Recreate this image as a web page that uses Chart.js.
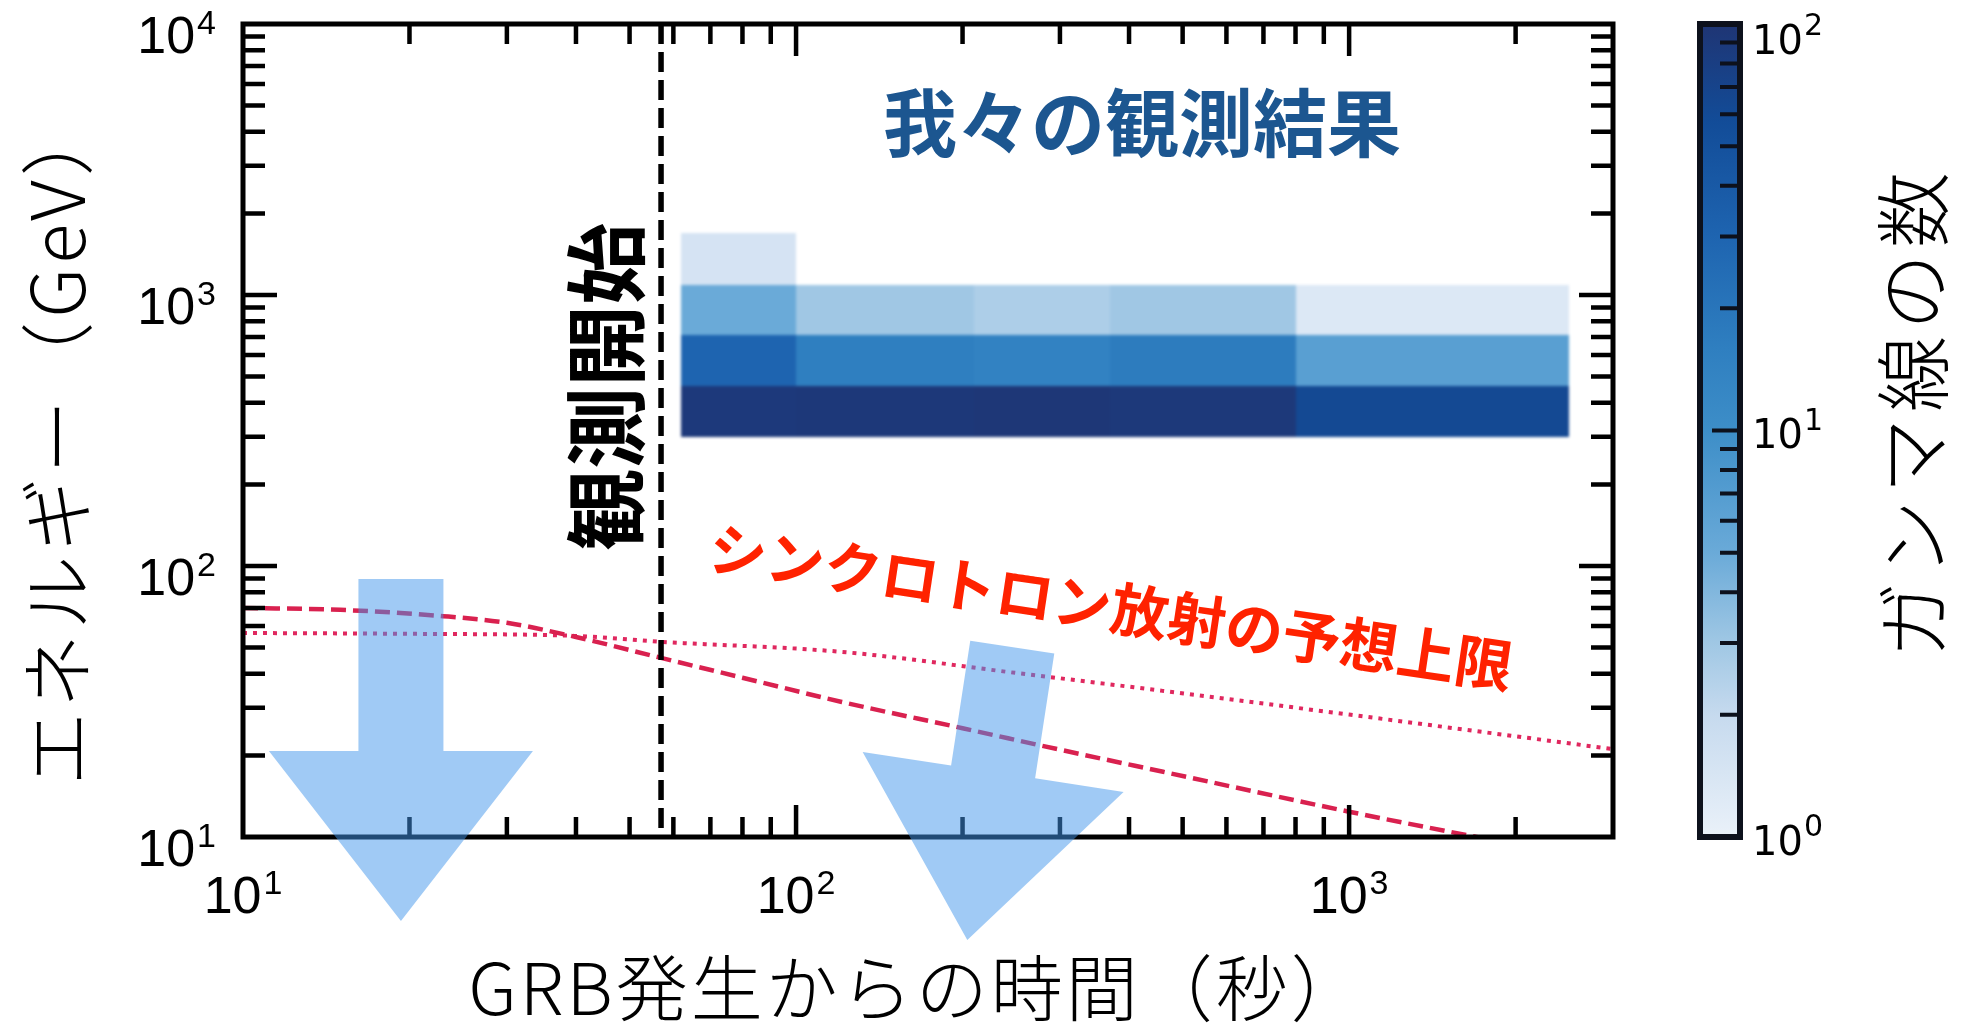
<!DOCTYPE html>
<html lang="ja">
<head>
<meta charset="utf-8">
<title>GRB 観測結果</title>
<script src="https://cdn.jsdelivr.net/npm/chart.js@4.4.1/dist/chart.umd.min.js"></script>
<style>
  html, body { margin: 0; padding: 0; background: #fff; }
  #wrap { width: 1965px; height: 1025px; position: relative; }
</style>
</head>
<body>
<div id="wrap"><canvas id="grbChart" width="1965" height="1025"></canvas></div>
<script>
// Axis ranges and ticks
const timeRange = [10, 3000];
const energyRange = [10, 10000];
const countRange = [1, 100];
const timeDecades = [10, 100, 1000];
const energyDecades = [10, 100, 1000, 10000];
const countDecades = [1, 10, 100];
const minorMultiples = [2, 3, 4, 5, 6, 7, 8, 9];
const timeTickLabels = ['10^1', '10^2', '10^3'];
const energyTickLabels = ['10^1', '10^2', '10^3', '10^4'];
const countTickLabels = ['10^0', '10^1', '10^2'];

// Gamma-ray counts binned in time (s) and energy (GeV)
const timeBinEdges = [62, 100, 210, 370, 800, 2500];
const energyBinEdges = [300, 460, 710, 1090, 1700];
// one row per energy bin (low -> high), one column per time bin
const photonCounts = [
  [90, 92, 95, 91, 62],
  [30, 16, 14.5, 17, 6.5],
  [5, 3.0, 2.6, 3.0, 1.3],
  [1.5, 0, 0, 0, 0]
];

// Predicted synchrotron upper limits
const syncDashedTime = [10, 15, 23, 30, 40, 57, 80, 121, 200, 300, 461, 1000, 1700, 2000];
const syncDashedEnergy = [70, 68.9, 65.3, 61.7, 54.7, 45.8, 38.7, 31.5, 25.2, 21.0, 17.4, 12.4, 10.0, 9.4];
const syncDottedTime = [10, 20, 40, 57, 121, 250, 461, 1000, 3000];
const syncDottedEnergy = [56.6, 56.2, 55.2, 52.5, 48.2, 40.3, 34.6, 28.3, 21.1];

// Start of observation (s)
const observationStart = 57;

// Big arrows: tail and tip as (time, energy)
const arrowTails = [[19.3, 89.5], [246, 50.2]];
const arrowTips = [[19.3, 4.9], [204, 4.17]];

// ---- styles ----
const cmapStops = [
  [0.00, [234, 241, 249]],
  [0.15, [198, 218, 238]],
  [0.24, [159, 199, 228]],
  [0.35, [106, 170, 216]],
  [0.50, [61, 142, 200]],
  [0.60, [47, 127, 192]],
  [0.74, [30, 100, 176]],
  [0.88, [18, 76, 152]],
  [1.00, [31, 53, 116]]
];
const cjk = '"Noto Sans CJK JP", "Noto Sans CJK SC", sans-serif';
const num = '"Liberation Sans Narrow", "Liberation Sans", sans-serif';
const mainLabel = { baseFont: `52px ${num}`, expFont: `34px ${num}`, gap: 2, baseDrop: 18.5, expDrop: 0 };
const cbLabel = { baseFont: '40px "DejaVu Sans", sans-serif', expFont: '30px "DejaVu Sans", sans-serif', gap: 1, baseDrop: 14.5, expDrop: -4 };
const colorbarBox = { left: 1700, right: 1740 };

function countColor(count) {
  const lo = Math.log10(countRange[0]), hi = Math.log10(countRange[1]);
  const t = Math.min(1, Math.max(0, (Math.log10(count) - lo) / (hi - lo)));
  for (let i = 1; i < cmapStops.length; i++) {
    const [t0, c0] = cmapStops[i - 1];
    const [t1, c1] = cmapStops[i];
    if (t <= t1) {
      const f = (t - t0) / (t1 - t0);
      const c = c0.map((v, k) => Math.round(v + (c1[k] - v) * f));
      return `rgb(${c.join(',')})`;
    }
  }
  return `rgb(${cmapStops[cmapStops.length - 1][1].join(',')})`;
}

function logTicks(decades, lo, hi) {
  const out = [];
  decades.forEach(d => {
    out.push({ value: d, major: true });
    minorMultiples.forEach(m => out.push({ value: d * m, major: false }));
  });
  return out.filter(t => t.value > lo && t.value < hi);
}

function drawPower(ctx, label, x, yc, style, align) {
  const [base, exp] = label.split('^');
  ctx.font = style.baseFont;
  const bw = ctx.measureText(base).width;
  ctx.font = style.expFont;
  const ew = ctx.measureText(exp).width;
  const total = bw + style.gap + ew;
  const left = align === 'right' ? x - total : align === 'center' ? x - total / 2 : x;
  ctx.textAlign = 'left';
  ctx.textBaseline = 'alphabetic';
  ctx.font = style.baseFont;
  ctx.fillText(base, left, yc + style.baseDrop);
  ctx.font = style.expFont;
  ctx.fillText(exp, left + bw + style.gap, yc + style.expDrop);
}

function drawRotated(ctx, text, x, y, angle, font, color, spacing) {
  ctx.save();
  ctx.translate(x, y);
  ctx.rotate(angle);
  ctx.font = font;
  ctx.fillStyle = color;
  ctx.letterSpacing = (spacing || 0) + 'px';
  ctx.textAlign = 'center';
  ctx.textBaseline = 'middle';
  ctx.fillText(text, 0, 0);
  ctx.restore();
}

// Heatmap cells (painted on a side canvas, then softened as one layer)
const heatmapPlugin = {
  id: 'heatmap',
  beforeDatasetsDraw(chart) {
    const { ctx, scales: { x, y } } = chart;
    const layer = document.createElement('canvas');
    layer.width = chart.width;
    layer.height = chart.height;
    const lctx = layer.getContext('2d');
    photonCounts.forEach((row, i) => {
      row.forEach((count, j) => {
        if (!count) return;
        const left = Math.round(x.getPixelForValue(timeBinEdges[j]));
        const right = Math.round(x.getPixelForValue(timeBinEdges[j + 1]));
        const top = Math.round(y.getPixelForValue(energyBinEdges[i + 1]));
        const bottom = Math.round(y.getPixelForValue(energyBinEdges[i]));
        lctx.fillStyle = countColor(count);
        lctx.fillRect(left, top, right - left, bottom - top);
      });
    });
    ctx.save();
    ctx.filter = 'blur(1.5px)';
    ctx.drawImage(layer, 0, 0);
    ctx.restore();
  },
  afterDatasetsDraw(chart) {
    // observation start marker
    const { ctx, chartArea, scales: { x } } = chart;
    const px = x.getPixelForValue(observationStart);
    ctx.save();
    ctx.strokeStyle = '#000';
    ctx.lineWidth = 5.5;
    ctx.setLineDash([20, 8]);
    ctx.beginPath();
    ctx.moveTo(px, chartArea.top);
    ctx.lineTo(px, chartArea.bottom);
    ctx.stroke();
    ctx.restore();
  }
};

// Frame, inward ticks, labels, colorbar and annotations
const decorPlugin = {
  id: 'decor',
  afterDraw(chart) {
    const { ctx, chartArea: a, scales: { x, y, cb } } = chart;
    ctx.save();

    // plot frame
    ctx.strokeStyle = '#000';
    ctx.lineWidth = 5;
    ctx.strokeRect(a.left, a.top, a.right - a.left, a.bottom - a.top);

    ctx.lineWidth = 4.5;
    ctx.lineCap = 'butt';
    ctx.beginPath();
    logTicks(timeDecades, timeRange[0], timeRange[1]).forEach(t => {
      const px = x.getPixelForValue(t.value);
      const len = t.major ? 32 : 20;
      ctx.moveTo(px, a.bottom); ctx.lineTo(px, a.bottom - len);
      ctx.moveTo(px, a.top); ctx.lineTo(px, a.top + len);
    });
    logTicks(energyDecades, energyRange[0], energyRange[1]).forEach(t => {
      const py = y.getPixelForValue(t.value);
      const len = t.major ? 34 : 22;
      ctx.moveTo(a.left, py); ctx.lineTo(a.left + len, py);
      ctx.moveTo(a.right, py); ctx.lineTo(a.right - len, py);
    });
    ctx.stroke();

    // tick labels
    ctx.fillStyle = '#000';
    timeDecades.forEach((v, i) => {
      drawPower(ctx, timeTickLabels[i], x.getPixelForValue(v), a.bottom + 57, mainLabel, 'center');
    });
    energyDecades.forEach((v, i) => {
      drawPower(ctx, energyTickLabels[i], a.left - 27, y.getPixelForValue(v) + 10, mainLabel, 'right');
    });

    // colorbar
    const cbTop = cb.getPixelForValue(countRange[1]);
    const cbBottom = cb.getPixelForValue(countRange[0]);
    const grad = ctx.createLinearGradient(0, cbBottom, 0, cbTop);
    cmapStops.forEach(([t]) => {
      const v = Math.pow(10, Math.log10(countRange[0]) + t * (Math.log10(countRange[1]) - Math.log10(countRange[0])));
      const f = (cbBottom - cb.getPixelForValue(v)) / (cbBottom - cbTop);
      grad.addColorStop(Math.min(1, Math.max(0, f)), countColor(v));
    });
    ctx.fillStyle = grad;
    ctx.fillRect(colorbarBox.left, cbTop, colorbarBox.right - colorbarBox.left, cbBottom - cbTop);

    ctx.strokeStyle = '#0d111c';
    ctx.lineWidth = 4;
    ctx.beginPath();
    logTicks(countDecades, countRange[0], countRange[1]).forEach(t => {
      const py = cb.getPixelForValue(t.value);
      const len = t.major ? 28 : 20;
      ctx.moveTo(colorbarBox.right, py); ctx.lineTo(colorbarBox.right - len, py);
    });
    ctx.stroke();
    ctx.lineWidth = 6;
    ctx.strokeRect(colorbarBox.left, cbTop, colorbarBox.right - colorbarBox.left, cbBottom - cbTop);

    ctx.fillStyle = '#000';
    countDecades.forEach((v, i) => {
      const py = Math.max(cb.getPixelForValue(v) + 3, cbTop + 15);
      drawPower(ctx, countTickLabels[i], colorbarBox.right + 12, py, cbLabel, 'left');
    });

    // axis titles
    drawRotated(ctx, 'GRB発生からの時間（秒）', 917, 988, 0, `300 72px ${cjk}`, '#000', 3);
    drawRotated(ctx, 'エネルギー（GeV）', 57, 442, -Math.PI / 2, `300 74px ${cjk}`, '#000', 4);
    drawRotated(ctx, 'ガンマ線の数', 1913, 412, -Math.PI / 2, `300 76px ${cjk}`, '#000', 6);

    // annotations
    drawRotated(ctx, '我々の観測結果', 1142, 123, 0, `bold 74px ${cjk}`, '#1c5690');
    drawRotated(ctx, '観測開始', 606, 387, -Math.PI / 2, `bold 82px ${cjk}`, '#000');
    drawRotated(ctx, 'シンクロトロン放射の予想上限', 1111, 607, 8.5 * Math.PI / 180, `bold 58px ${cjk}`, '#ff2200');

    // translucent downward arrows
    ctx.fillStyle = 'rgba(66, 150, 236, 0.5)';
    arrowTails.forEach((tailVal, i) => {
      const tail = { x: x.getPixelForValue(tailVal[0]), y: y.getPixelForValue(tailVal[1]) };
      const tip = { x: x.getPixelForValue(arrowTips[i][0]), y: y.getPixelForValue(arrowTips[i][1]) };
      const dx = tip.x - tail.x, dy = tip.y - tail.y;
      const len = Math.hypot(dx, dy);
      const ux = dx / len, uy = dy / len;
      const nx = -uy, ny = ux;
      const shaft = 42.5, head = 132, headLen = 170;
      const bx = tip.x - ux * headLen, by = tip.y - uy * headLen;
      ctx.beginPath();
      ctx.moveTo(tail.x + nx * shaft, tail.y + ny * shaft);
      ctx.lineTo(bx + nx * shaft, by + ny * shaft);
      ctx.lineTo(bx + nx * head, by + ny * head);
      ctx.lineTo(tip.x, tip.y);
      ctx.lineTo(bx - nx * head, by - ny * head);
      ctx.lineTo(bx - nx * shaft, by - ny * shaft);
      ctx.lineTo(tail.x - nx * shaft, tail.y - ny * shaft);
      ctx.closePath();
      ctx.fill();
    });

    ctx.restore();
  }
};

const toPoints = (xs, ys) => xs.map((v, i) => ({ x: v, y: ys[i] }));

new Chart(document.getElementById('grbChart'), {
  type: 'scatter',
  data: {
    datasets: [
      {
        label: 'dashed',
        data: toPoints(syncDashedTime, syncDashedEnergy),
        showLine: true,
        borderColor: '#d9214f',
        borderWidth: 4.5,
        borderDash: [15, 7],
        cubicInterpolationMode: 'monotone',
        pointRadius: 0
      },
      {
        label: 'dotted',
        data: toPoints(syncDottedTime, syncDottedEnergy),
        showLine: true,
        borderColor: '#e0285f',
        borderWidth: 4,
        borderDash: [4, 6],
        cubicInterpolationMode: 'monotone',
        pointRadius: 0
      }
    ]
  },
  options: {
    responsive: false,
    animation: false,
    layout: { padding: { left: 243, top: 24, right: 352, bottom: 188 } },
    plugins: {
      legend: { display: false },
      tooltip: { enabled: false }
    },
    scales: {
      x: { type: 'logarithmic', min: timeRange[0], max: timeRange[1], display: false },
      y: { type: 'logarithmic', min: energyRange[0], max: energyRange[1], display: false },
      cb: { type: 'logarithmic', axis: 'y', min: countRange[0], max: countRange[1], display: false }
    }
  },
  plugins: [heatmapPlugin, decorPlugin]
});
</script>
</body>
</html>
